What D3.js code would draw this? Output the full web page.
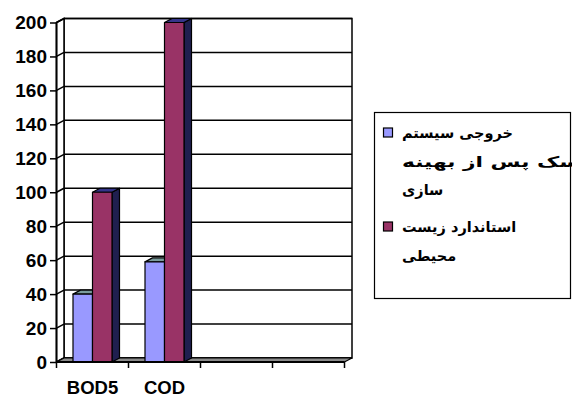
<!DOCTYPE html>
<html>
<head>
<meta charset="utf-8">
<script src="https://cdn.jsdelivr.net/npm/d3@7"></script>
<style>
  html, body { margin: 0; padding: 0; background: #fff; }
  svg { display: block; }
</style>
</head>
<body>
<svg id="chart" width="572" height="397"></svg>
<script>
// Category slots along the floor (two are left empty)
const categories = ["BOD5", "COD", "", ""];
// Legend names, already wrapped into lines
const seriesNames = [
  ["خروجی سیستم", "بیودیسک پس از بهینه", "سازی"],
  ["استاندارد زیست", "محیطی"]
];
// Series values per category
const outputValues = [40, 59, null, null];
const standardValues = [100, 200, null, null];
const yTicks = [0, 20, 40, 60, 80, 100, 120, 140, 160, 180, 200];

const seriesColors = [
  { front: "#9999FF", top: "#7a9c9c", side: "#4d4d80" },
  { front: "#993366", top: "#35358a", side: "#1f1f4f" }
];
const seriesValues = [outputValues, standardValues];
// Horizontal stretch of each wrapped legend line
const legendLineScales = [[1, 1.5, 1], [1, 1]];

const svg = d3.select("#chart");

// Front plane and depth offset of the 3D box
const plotLeft = 56.5, plotRight = 344.5, plotBottom = 362, plotTop = 22.5;
const dx = 7.5, dy = -4;

const x = d3.scaleBand().domain(d3.range(categories.length)).range([plotLeft, plotRight]);
const y = d3.scaleLinear().domain([0, 200]).range([plotBottom, plotTop]);
const barW = 19.5;
const inner = d3.scaleBand().domain([0, 1]).range([-barW, barW]);

// Back wall
svg.append("rect")
  .attr("x", plotLeft + dx).attr("y", plotTop + dy)
  .attr("width", plotRight - plotLeft).attr("height", plotBottom - plotTop)
  .attr("fill", "#fff").attr("stroke", "#000").attr("stroke-width", 1.5);

// Left wall
svg.append("polygon")
  .attr("points", [[plotLeft, plotTop], [plotLeft + dx, plotTop + dy], [plotLeft + dx, plotBottom + dy], [plotLeft, plotBottom]].join(" "))
  .attr("fill", "#fff").attr("stroke", "#000").attr("stroke-width", 1.5);

// Gridlines on the back and left walls
const grid = svg.append("g").attr("stroke", "#000").attr("stroke-width", 1.5).attr("fill", "none");
yTicks.forEach(t => {
  grid.append("line")
    .attr("x1", plotLeft + dx).attr("x2", plotRight + dx)
    .attr("y1", y(t) + dy).attr("y2", y(t) + dy);
  grid.append("line")
    .attr("x1", plotLeft).attr("x2", plotLeft + dx)
    .attr("y1", y(t)).attr("y2", y(t) + dy);
});

// Floor
svg.append("polygon")
  .attr("points", [[plotLeft, plotBottom], [plotLeft + dx, plotBottom + dy], [plotRight + dx, plotBottom + dy], [plotRight, plotBottom]].join(" "))
  .attr("fill", "#8a8a8a").attr("stroke", "#000").attr("stroke-width", 1.2);

// Columns
const bars = svg.append("g").attr("stroke", "#000").attr("stroke-width", 1.2).attr("stroke-linejoin", "round");
categories.forEach((c, i) => {
  const cx = x(i) + x.bandwidth() / 2;
  seriesValues.forEach((vals, s) => {
    const v = vals[i];
    if (v == null) return;
    const x0 = cx + inner(s), x1 = x0 + barW;
    const yv = y(v), y0 = y(0);
    const col = seriesColors[s];
    bars.append("polygon")
      .attr("points", [[x1, yv], [x1 + dx, yv + dy], [x1 + dx, y0 + dy], [x1, y0]].join(" "))
      .attr("fill", col.side);
    bars.append("polygon")
      .attr("points", [[x0, yv], [x0 + dx, yv + dy], [x1 + dx, yv + dy], [x1, yv]].join(" "))
      .attr("fill", col.top);
    bars.append("rect")
      .attr("x", x0).attr("y", yv).attr("width", barW).attr("height", y0 - yv)
      .attr("fill", col.front);
  });
});

// Value axis
const yAxis = svg.append("g").attr("transform", `translate(${plotLeft},0)`)
  .call(d3.axisLeft(y).tickValues(yTicks).tickSize(6.5).tickPadding(3).tickFormat(d3.format("d")));
yAxis.select(".domain").attr("stroke", "#000").attr("stroke-width", 1.8).attr("d", `M0,${plotTop}V${plotBottom}`);
yAxis.selectAll(".tick line").attr("stroke", "#000").attr("stroke-width", 1.5);
yAxis.selectAll(".tick text")
  .attr("fill", "#000")
  .style("font-family", "'Liberation Sans', Arial, sans-serif")
  .style("font-weight", "bold").style("font-size", "19px");

// Category axis
const xAxis = svg.append("g").attr("transform", `translate(0,${plotBottom})`)
  .call(d3.axisBottom(x).tickFormat(i => categories[i]).tickSize(0).tickPadding(19));
xAxis.select(".domain").remove();
xAxis.append("line").attr("x1", plotLeft).attr("x2", plotRight).attr("y1", 0).attr("y2", 0)
  .attr("stroke", "#000").attr("stroke-width", 1.8);
x.domain().concat([categories.length]).forEach(i => {
  const px = i < categories.length ? x(i) : plotRight;
  xAxis.append("line").attr("x1", px).attr("x2", px).attr("y1", 0).attr("y2", 6)
    .attr("stroke", "#000").attr("stroke-width", 1.5);
});
xAxis.selectAll(".tick text")
  .attr("fill", "#000")
  .style("font-family", "'Liberation Sans', Arial, sans-serif")
  .style("font-weight", "bold").style("font-size", "18.5px");

// Legend
const legend = svg.append("g");
legend.append("rect")
  .attr("x", 374.5).attr("y", 112.5).attr("width", 196).attr("height", 186)
  .attr("fill", "#fff").attr("stroke", "#000").attr("stroke-width", 1.2);
const entryTops = [128, 222];
const lineGap = 28.5;
const textLeft = 402;
seriesNames.forEach((lines, s) => {
  legend.append("rect")
    .attr("x", 383.5).attr("y", entryTops[s]).attr("width", 9).attr("height", 9)
    .attr("fill", seriesColors[s].front).attr("stroke", "#000").attr("stroke-width", 1.2);
  lines.forEach((ln, k) => {
    // each wrapped line starts at the same left edge and is stretched from there
    legend.append("g")
      .attr("transform", `translate(${textLeft},${entryTops[s] + 10 + k * lineGap}) scale(${legendLineScales[s][k]},1)`)
      .append("text")
      .attr("x", 0).attr("y", 0)
      .attr("text-anchor", "start")
      .style("font-family", "'DejaVu Sans', sans-serif")
      .style("font-weight", "bold").style("font-size", "14.5px")
      .attr("fill", "#000")
      .text(ln);
  });
});
</script>
</body>
</html>
